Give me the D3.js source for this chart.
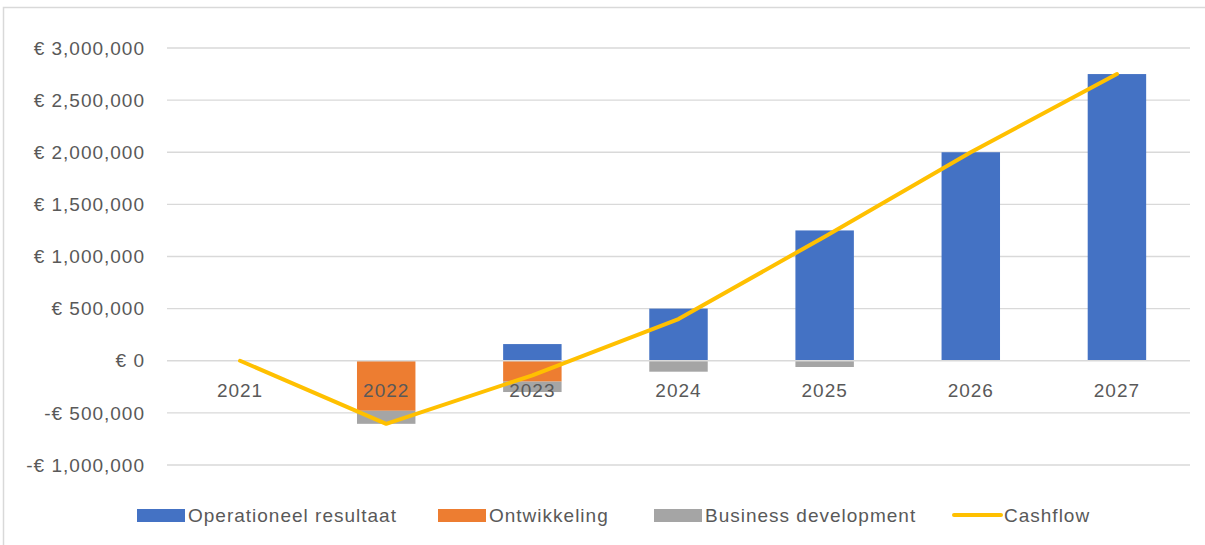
<!DOCTYPE html>
<html>
<head>
<meta charset="utf-8">
<script src="https://cdn.jsdelivr.net/npm/d3@7"></script>
<style>
  body { margin: 0; background: #fff; }
  svg text { font-family: "Liberation Sans", Arial, sans-serif; fill: #595959; letter-spacing: 1px; }
</style>
</head>
<body>
<div id="main"></div>
<script>
var width = 1205,
    height = 545;

// data
var years = ["2021", "2022", "2023", "2024", "2025", "2026", "2027"];
var operationeel = [0, 0, 160000, 500000, 1250000, 2000000, 2750000];
var ontwikkeling = [0, -480000, -200000, 0, 0, 0, 0];
var business = [0, -125000, -100000, -105000, -60000, 0, 0];
var cashflow = [0, -605000, -140000, 400000, 1190000, 2000000, 2750000];
var yTicks = [-1000000, -500000, 0, 500000, 1000000, 1500000, 2000000, 2500000, 3000000];

var seriesNames = ["Operationeel resultaat", "Ontwikkeling", "Business development"];
var colors = ["#4472C4", "#ED7D31", "#A5A5A5"];
var lineColor = "#FFC000";

var rows = years.map(function(y, i) {
  return { year: y, "Operationeel resultaat": operationeel[i], "Ontwikkeling": ontwikkeling[i], "Business development": business[i] };
});

var left = 167, right = 1190;

var x = d3.scaleBand().domain(years).range([left, right]).paddingInner(0.6).paddingOuter(0.3);
var y = d3.scaleLinear().domain([-1000000, 3000000]).range([465, 48]);

var svg = d3.select("#main").append("svg")
    .attr("width", width)
    .attr("height", height);

// chart border
svg.append("path")
    .attr("d", "M3.5," + (height + 5) + "V7.5H" + (width + 5))
    .attr("fill", "none")
    .attr("stroke", "#d9d9d9")
    .attr("stroke-width", 1.5);

// gridlines
svg.append("g").selectAll("line")
    .data(yTicks.filter(function(d) { return d !== 0; }))
    .enter().append("line")
    .attr("x1", left).attr("x2", right)
    .attr("y1", function(d) { return y(d); })
    .attr("y2", function(d) { return y(d); })
    .attr("stroke", "#d9d9d9")
    .attr("stroke-width", 1.3);

// y labels
function fmt(v) {
  var s = "€ " + d3.format(",")(Math.abs(v));
  return v < 0 ? "-" + s : s;
}
svg.append("g").selectAll("text")
    .data(yTicks)
    .enter().append("text")
    .attr("x", 145)
    .attr("y", function(d) { return y(d); })
    .attr("dy", "0.35em")
    .attr("text-anchor", "end")
    .style("font-size", "19px")
    .text(fmt);

// stacked bars
var stack = d3.stack().keys(seriesNames).offset(d3.stackOffsetDiverging);
var stacked = stack(rows);

svg.append("g").selectAll("g")
    .data(stacked)
    .enter().append("g")
    .attr("fill", function(d, i) { return colors[i]; })
    .selectAll("rect")
    .data(function(d) { return d; })
    .enter().append("rect")
    .attr("x", function(d) { return x(d.data.year); })
    .attr("width", x.bandwidth())
    .attr("y", function(d) { return y(Math.max(d[0], d[1])); })
    .attr("height", function(d) { return Math.abs(y(d[0]) - y(d[1])); });

// zero axis
svg.append("line")
    .attr("x1", left).attr("x2", right)
    .attr("y1", y(0)).attr("y2", y(0))
    .attr("stroke", "#d9d9d9")
    .attr("stroke-width", 1.3);

// category labels
svg.append("g").selectAll("text")
    .data(years)
    .enter().append("text")
    .attr("x", function(d) { return x(d) + x.bandwidth() / 2; })
    .attr("y", y(0) + 30)
    .attr("dy", "0.35em")
    .attr("text-anchor", "middle")
    .style("font-size", "19px")
    .text(function(d) { return d; });

// cashflow line
var line = d3.line()
    .x(function(d, i) { return x(years[i]) + x.bandwidth() / 2; })
    .y(function(d) { return y(d); });

svg.append("path")
    .datum(cashflow)
    .attr("d", line)
    .attr("fill", "none")
    .attr("stroke", lineColor)
    .attr("stroke-width", 4)
    .attr("stroke-linejoin", "round")
    .attr("stroke-linecap", "round");

// legend
var legendItems = [
  { name: "Operationeel resultaat", color: colors[0], type: "rect", x: 137 },
  { name: "Ontwikkeling", color: colors[1], type: "rect", x: 438 },
  { name: "Business development", color: colors[2], type: "rect", x: 654 },
  { name: "Cashflow", color: lineColor, type: "line", x: 953 }
];
var ly = 515;
var lg = svg.append("g").selectAll("g")
    .data(legendItems)
    .enter().append("g")
    .attr("transform", function(d) { return "translate(" + d.x + "," + ly + ")"; });

lg.filter(function(d) { return d.type === "rect"; })
    .append("rect")
    .attr("x", 0).attr("y", -6)
    .attr("width", 48).attr("height", 13)
    .attr("fill", function(d) { return d.color; });

lg.filter(function(d) { return d.type === "line"; })
    .append("line")
    .attr("x1", 1).attr("x2", 48)
    .attr("y1", 0).attr("y2", 0)
    .attr("stroke", function(d) { return d.color; })
    .attr("stroke-width", 4)
    .attr("stroke-linecap", "round");

lg.append("text")
    .attr("x", 51)
    .attr("y", 0)
    .attr("dy", "0.35em")
    .style("font-size", "19px")
    .text(function(d) { return d.name; });
</script>
</body>
</html>
